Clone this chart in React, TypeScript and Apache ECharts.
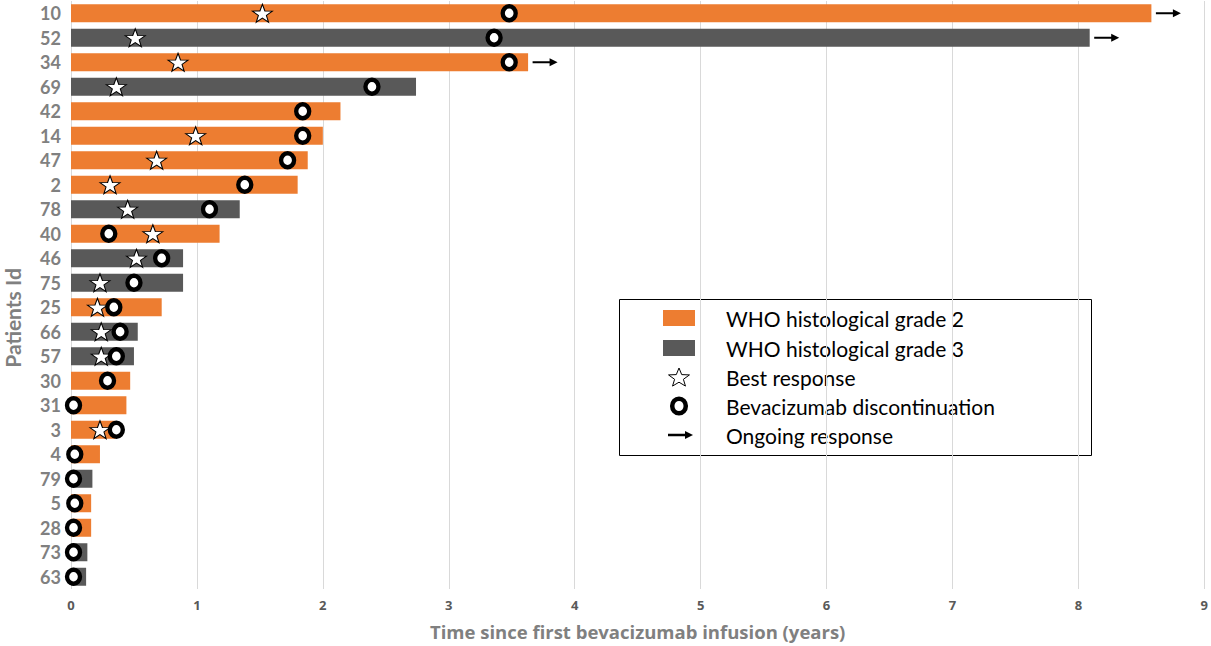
import React, { useEffect, useRef } from "react";
import * as echarts from "echarts";

const patients = ["10", "52", "34", "69", "42", "14", "47", "2", "78", "40", "46", "75", "25", "66", "57", "30", "31", "3", "4", "79", "5", "28", "73", "63"];
const grades = [2, 3, 2, 3, 2, 2, 2, 2, 3, 2, 3, 3, 2, 3, 3, 2, 2, 2, 2, 3, 2, 2, 3, 3];
const durations = [8.58, 8.09, 3.63, 2.74, 2.14, 2.0, 1.88, 1.8, 1.34, 1.18, 0.89, 0.89, 0.72, 0.53, 0.5, 0.47, 0.44, 0.35, 0.23, 0.17, 0.16, 0.16, 0.13, 0.12];
const bestResponse: (number | null)[] = [1.52, 0.51, 0.85, 0.36, null, 0.99, 0.68, 0.31, 0.45, 0.65, 0.52, 0.23, 0.21, 0.24, 0.24, null, null, 0.23, null, null, null, null, null, null];
const discontinuation = [3.48, 3.36, 3.48, 2.39, 1.84, 1.84, 1.72, 1.38, 1.1, 0.3, 0.72, 0.5, 0.34, 0.39, 0.36, 0.29, 0.02, 0.36, 0.03, 0.02, 0.03, 0.02, 0.02, 0.02];
const ongoing = [true, true, true, false, false, false, false, false, false, false, false, false, false, false, false, false, false, false, false, false, false, false, false, false];
const xTicks = [0, 1, 2, 3, 4, 5, 6, 7, 8, 9];

const legendLabels = ["WHO histological grade 2", "WHO histological grade 3", "Best response", "Bevacizumab discontinuation", "Ongoing response"];

const ORANGE = "#ED7D31";
const GRAY = "#595959";
const FONT = "Lato, 'Noto Sans', sans-serif";
const FONT_X = "'Open Sans', 'Noto Sans', sans-serif";

const STAR_PATH =
  "path://M10,0 L12.351,6.764 L19.511,6.910 L13.804,11.236 L15.878,18.090 L10,14 L4.122,18.090 L6.196,11.236 L0.489,6.910 L7.649,6.764 Z";
const RING_PATH = "path://M0,7 A6.5,7 0 1,1 13,7 A6.5,7 0 1,1 0,7 Z";
const ARROW_PATH = "path://M0,3 L17,3 L17,0 L25,4 L17,8 L17,5 L0,5 Z";

function starPoints(cx: number, cy: number, ro: number, ri: number, sx: number) {
  const pts: number[][] = [];
  for (let k = 0; k < 10; k++) {
    const a = -Math.PI / 2 + (k * Math.PI) / 5;
    const r = k % 2 === 0 ? ro : ri;
    pts.push([cx + r * Math.cos(a) * sx, cy + r * Math.sin(a)]);
  }
  return pts;
}

export default function App() {
  const ref = useRef<HTMLDivElement>(null);
  useEffect(() => {
    if (!ref.current) return;
    const chart = echarts.init(ref.current, null, { renderer: "svg" });

    const g2 = durations.map((d, i) => (grades[i] === 2 ? d : "-"));
    const g3 = durations.map((d, i) => (grades[i] === 3 ? d : "-"));
    const stars = bestResponse
      .map((v, i) => (v === null ? null : [v, patients[i]]))
      .filter((d) => d !== null);
    const rings = discontinuation.map((v, i) => [v, patients[i]]);
    const arrows = durations
      .map((v, i) => (ongoing[i] ? [v, patients[i]] : null))
      .filter((d) => d !== null);

    const lx = 679;
    const rowsY = [318, 348, 377, 406, 435];

    const option: any = {
      animation: false,
      grid: { left: 71, right: 6, top: 1, bottom: 57, containLabel: false },
      xAxis: {
        type: "value",
        min: xTicks[0],
        max: xTicks[xTicks.length - 1],
        interval: 1,
        axisLine: { show: false },
        axisTick: { show: false },
        splitLine: { show: true, lineStyle: { color: "#d9d9d9", width: 1 } },
        axisLabel: { color: "#595959", fontWeight: "bold", fontSize: 13, fontFamily: FONT_X, margin: 9 },
        name: "Time since first bevacizumab infusion (years)",
        nameLocation: "middle",
        nameGap: 33,
        nameTextStyle: { color: "#808080", fontWeight: "bold", fontSize: 18.5, fontFamily: FONT_X },
      },
      yAxis: {
        type: "category",
        data: patients,
        inverse: true,
        axisLine: { show: false },
        axisTick: { show: false },
        splitLine: { show: false },
        axisLabel: { color: "#808080", fontWeight: "bold", fontSize: 18, fontFamily: FONT, margin: 10 },
      },
      series: [
        {
          name: "WHO histological grade 2",
          type: "bar",
          data: g2,
          barWidth: 18,
          barGap: "-100%",
          itemStyle: { color: ORANGE },
        },
        {
          name: "WHO histological grade 3",
          type: "bar",
          data: g3,
          barWidth: 18,
          barGap: "-100%",
          itemStyle: { color: GRAY },
        },
        {
          name: "Best response",
          type: "scatter",
          data: stars,
          symbol: STAR_PATH,
          symbolSize: [20, 18],
          itemStyle: { color: "#ffffff", borderColor: "#000000", borderWidth: 1, opacity: 1 },
          z: 3,
        },
        {
          name: "Bevacizumab discontinuation",
          type: "scatter",
          data: rings,
          symbol: RING_PATH,
          symbolSize: [13, 14],
          itemStyle: { color: "#ffffff", borderColor: "#000000", borderWidth: 4.5, opacity: 1 },
          z: 4,
        },
        {
          name: "Ongoing response",
          type: "scatter",
          data: arrows,
          symbol: ARROW_PATH,
          symbolSize: [25, 8],
          symbolOffset: [17, 0],
          itemStyle: { color: "#000000", opacity: 1 },
          z: 5,
        },
      ],
      graphic: [
        {
          type: "text",
          x: 12,
          y: 318,
          rotation: Math.PI / 2,
          style: {
            text: "Patients Id",
            fill: "#808080",
            fontSize: 21,
            fontWeight: "bold",
            fontFamily: FONT,
            align: "center",
            verticalAlign: "middle",
          },
        },
        {
          type: "group",
          children: [
            {
              type: "rect",
              shape: { x: 619.5, y: 299.5, width: 472, height: 156 },
              style: { fill: "#ffffff", stroke: "#000000", lineWidth: 1 },
            },
            {
              type: "rect",
              shape: { x: 663, y: rowsY[0] - 8, width: 32, height: 16 },
              style: { fill: ORANGE },
            },
            {
              type: "rect",
              shape: { x: 663, y: rowsY[1] - 8, width: 32, height: 16 },
              style: { fill: GRAY },
            },
            {
              type: "polygon",
              shape: { points: starPoints(lx, rowsY[2] + 1, 10, 4.2, 1.1) },
              style: { fill: "#ffffff", stroke: "#000000", lineWidth: 1 },
            },
            {
              type: "ellipse",
              shape: { cx: lx, cy: rowsY[3], rx: 6.8, ry: 7.3 },
              style: { fill: "#ffffff", stroke: "#000000", lineWidth: 4.5 },
            },
            {
              type: "polygon",
              shape: {
                points: [
                  [668, rowsY[4] - 1.3],
                  [685, rowsY[4] - 1.3],
                  [685, rowsY[4] - 4],
                  [693, rowsY[4]],
                  [685, rowsY[4] + 4],
                  [685, rowsY[4] + 1.3],
                  [668, rowsY[4] + 1.3],
                ],
              },
              style: { fill: "#000000" },
            },
            ...legendLabels.map((t, i) => ({
              type: "text",
              x: 726,
              y: rowsY[i],
              style: {
                text: t,
                fill: "#000000",
                fontSize: 21,
                fontFamily: FONT,
                align: "left",
                verticalAlign: "middle",
              },
            })),
          ],
        },
      ],
    };

    chart.setOption(option);
    return () => chart.dispose();
  }, []);

  return (
    <div
      ref={ref}
      style={{ position: "absolute", left: 0, top: 0, width: 1211, height: 646 }}
    />
  );
}
